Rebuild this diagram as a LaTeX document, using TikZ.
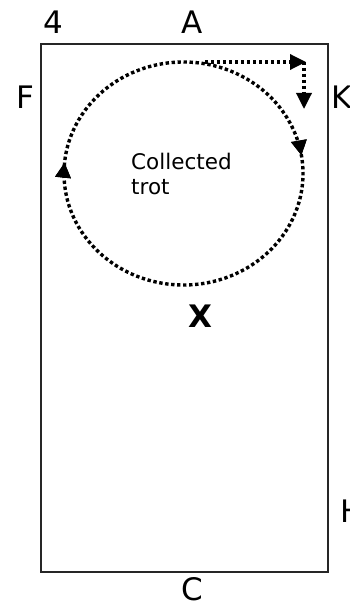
\documentclass[tikz,border=0pt]{standalone}
\usepackage{fontspec}
\setmainfont{DejaVu Sans}
\usetikzlibrary{arrows.meta}
\usetikzlibrary{decorations.markings}
\tikzset{
    arena/.style = {draw=black!85,line width=1.5pt},
    letter/.style = {inner sep=0pt,font=\fontsize{31}{33}\selectfont},
    gait/.style = {align=left,inner sep=0pt,font=\fontsize{21.5}{25}\selectfont},
    track/.style = {line width=3.4pt,dash pattern=on 3.4pt off 2.6pt},
    trackarrow/.style = {track,-{Triangle[length=16pt,width=15pt]}},
    midarrow/.style = {decoration={markings,
        mark=at position #1 with {\arrow{Triangle[length=15pt,width=15pt]}}},
        postaction=decorate}
}
\begin{document}
\begin{tikzpicture}[x=1pt,y=-1pt]
  \useasboundingbox (0,0) rectangle (350,607);
  \node[arena,minimum width=287pt,minimum height=528pt,inner sep=0pt] (arena) at (184.5,308) {};
  % letters round the arena
  \node[letter] (four) at (53,22) {4};
  \node[letter] (A) at (192,22) {A};
  \node[letter] (F) at (25,97) {F};
  \node[letter,anchor=west] (K) at (331,97) {K};
  \node[letter,anchor=west] (H) at (340,511) {H};
  \node[letter] (C) at (192,589) {C};
  \node[letter,font=\fontsize{31}{33}\selectfont\bfseries] (X) at (200,316) {X};
  \node[gait,anchor=base west] (name) at (131,194) {Collected\\trot};
  % circle
  \coordinate (top) at (205,62);
  \coordinate (corner) at (304,62);
  \coordinate (turn) at (304,109);
  \draw[track,midarrow/.list={0.225,0.765}] (183.5,62) arc[start angle=-90,end angle=270,x radius=119.5,y radius=111.5];
  \draw[trackarrow] (top) -- ([xshift=2pt]corner);
  \draw[trackarrow] (corner) -- (turn);
\end{tikzpicture}
\end{document}
